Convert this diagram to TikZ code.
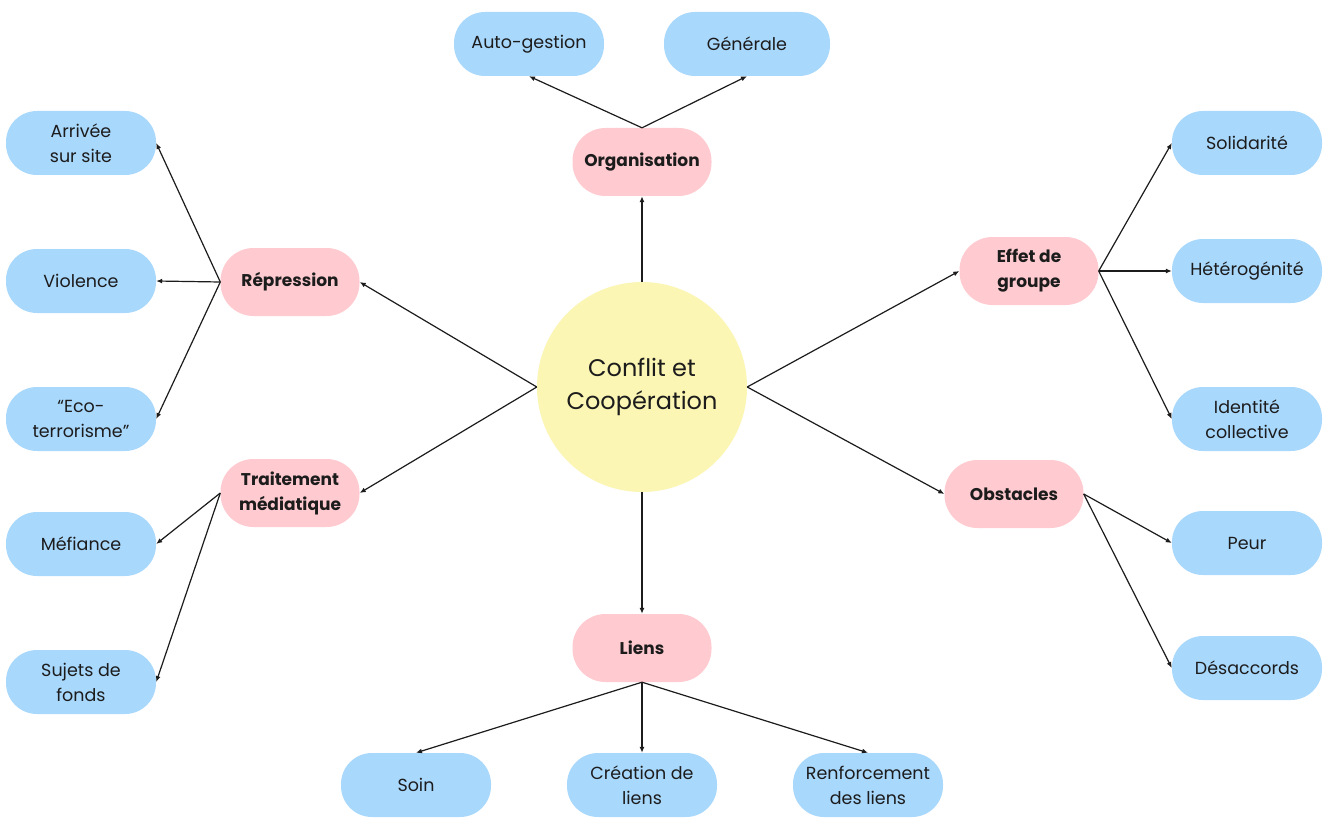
\documentclass[tikz,border=0pt]{standalone}
\usepackage{fontspec}
\setmainfont{Poppins}
\usetikzlibrary{arrows.meta}
\definecolor{leafblue}{HTML}{A9D8FD}
\definecolor{catpink}{HTML}{FFCBD0}
\definecolor{coreyellow}{HTML}{FCF6B4}
\definecolor{ink}{HTML}{1C1C1C}
\tikzset{
  leaf/.style={fill=leafblue, rounded corners=31pt, minimum width=150pt, minimum height=64pt, align=center, text=ink, font=\fontsize{17.5}{25}\selectfont, inner sep=0pt},
  cat/.style={fill=catpink, rounded corners=33pt, minimum width=139pt, minimum height=68pt, align=center, text=ink, font=\fontsize{17}{25}\selectfont\bfseries, inner sep=0pt},
  core/.style={circle, fill=coreyellow, minimum size=210pt, align=center, text=ink, font=\fontsize{24}{33}\selectfont, inner sep=0pt},
  link/.style={draw=ink, line width=1.2pt, -{Latex[length=6pt,width=5pt]}}
}
\begin{document}
\begin{tikzpicture}[x=1pt,y=-1pt]
\path[fill=white,use as bounding box] (0,0) rectangle (1325,821);
% core
\node[core] (c) at (642,387) {Conflit et\\Coopération};
% categories
\node[cat] (org) at (642,162) {Organisation};
\node[cat] (rep) at (290,282) {Répression};
\node[cat] (tm) at (290,493) {Traitement\\médiatique};
\node[cat] (li) at (642,648) {Liens};
\node[cat] (eff) at (1029,271) {Effet de\\groupe};
\node[cat] (obs) at (1014,494) {Obstacles};
% leaves
\node[leaf] (ag) at (529,44) {Auto-gestion};
\node[leaf, minimum width=166pt] (ge) at (747,44) {Générale};
\node[leaf] (arr) at (81,143) {Arrivée\\sur site};
\node[leaf] (vio) at (81,281) {Violence};
\node[leaf] (eco) at (81,419) {“Eco-\\terrorisme”};
\node[leaf] (mef) at (81,544) {Méfiance};
\node[leaf] (suj) at (81,682) {Sujets de\\fonds};
\node[leaf] (soin) at (416,785) {Soin};
\node[leaf] (cre) at (642,785) {Création de\\liens};
\node[leaf] (ren) at (868,785) {Renforcement\\des liens};
\node[leaf] (sol) at (1247,143) {Solidarité};
\node[leaf] (het) at (1247,271) {Hétérogénité};
\node[leaf] (ide) at (1247,419) {Identité\\collective};
\node[leaf] (peur) at (1247,543) {Peur};
\node[leaf] (des) at (1247,668) {Désaccords};
% core to categories
\draw[link] (c.north) -- (org.south);
\draw[link] (c.west) -- (rep.east);
\draw[link] (c.west) -- (tm.east);
\draw[link] (c.south) -- (li.north);
\draw[link] (c.east) -- (eff.west);
\draw[link] (c.east) -- (obs.west);
% categories to leaves
\draw[link] (org.north) -- (ag.south);
\draw[link] (org.north) -- (ge.south);
\draw[link] (rep.west) -- (arr.east);
\draw[link] (rep.west) -- (vio.east);
\draw[link] (rep.west) -- (eco.east);
\draw[link] (tm.west) -- (mef.east);
\draw[link] (tm.west) -- (suj.east);
\draw[link] (li.south) -- (soin.north);
\draw[link] (li.south) -- (cre.north);
\draw[link] (li.south) -- (ren.north);
\draw[link] (eff.east) -- (sol.west);
\draw[link] (eff.east) -- (het.west);
\draw[link] (eff.east) -- (ide.west);
\draw[link] (obs.east) -- (peur.west);
\draw[link] (obs.east) -- (des.west);
\end{tikzpicture}
\end{document}
